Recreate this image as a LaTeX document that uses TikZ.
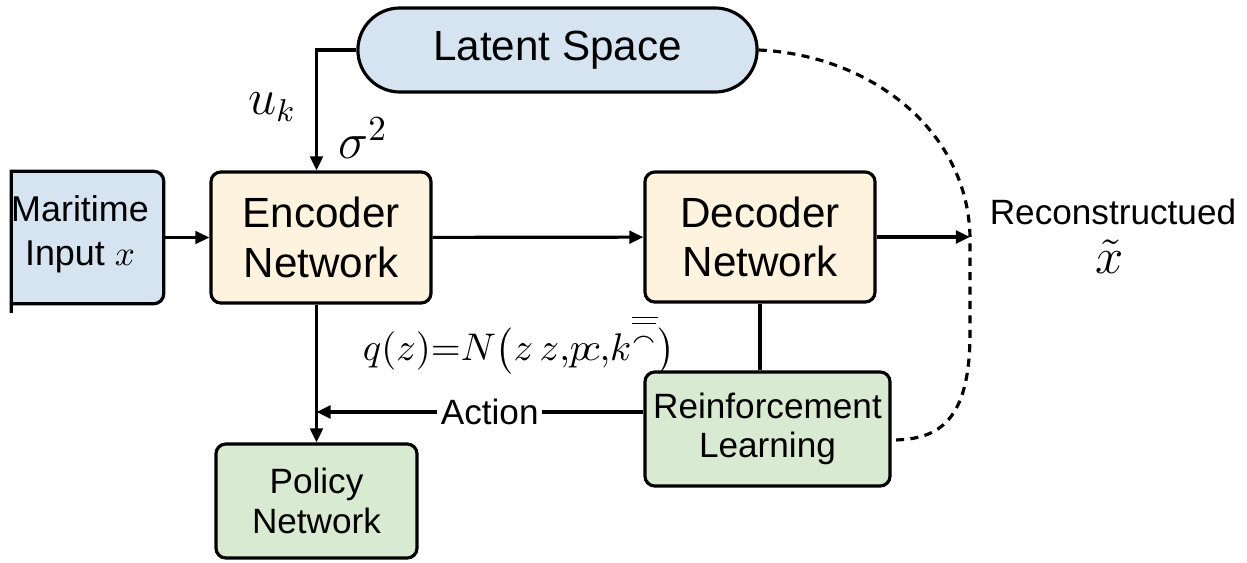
\documentclass[tikz,border=0pt]{standalone}
\usepackage{fontspec}
\setmainfont{Liberation Sans}
\usepackage{amsmath,amssymb}
\definecolor{latblue}{RGB}{214,228,241}
\definecolor{netcream}{RGB}{253,243,222}
\definecolor{rlgreen}{RGB}{217,234,211}
\usetikzlibrary{positioning,arrows.meta,calc}
\tikzset{
  netbox/.style={draw, line width=0.9pt, rounded corners=0.1cm, align=center, inner sep=0pt},
  flow/.style={line width=0.9pt, -{Triangle[length=4pt,width=3.6pt]}},
  plain/.style={line width=0.9pt}
}

\begin{document}
\begin{tikzpicture}[x=0.01cm,y=-0.01cm]
  \useasboundingbox (0,0) rectangle (1247,563);

  % boxes
  \node [fill=latblue, inner sep=0pt, minimum width=1.51cm, minimum height=1.31cm] (mi) at (87.5,237.5) {};
  \draw [plain] ([yshift=-0.09cm]mi.south west) -- (mi.north west)
     [rounded corners=0.1cm] -- (mi.north east) -- (mi.south east) -- (mi.south west);
  \node [align=center, font=\fontsize{10.2}{12.6}\selectfont] (mitxt) at (80,234) {Maritime\\Input $x$};

  \node [netbox, fill=netcream, minimum width=2.2cm, minimum height=1.31cm,
         font=\fontsize{12}{14}\selectfont] (enc) at (321,237.5) {Encoder\\Network};
  \node [netbox, fill=netcream, minimum width=2.3cm, minimum height=1.3cm,
         font=\fontsize{12}{14}\selectfont] (dec) at (760,237) {Decoder\\Network};
  \node [netbox, fill=latblue, rounded corners=0.42cm, minimum width=3.99cm, minimum height=0.84cm,
         font=\fontsize{12}{14}\selectfont] (lat) at (557.5,50) {\raisebox{-1pt}{Latent Space}};
  \node [netbox, fill=rlgreen, minimum width=2.45cm, minimum height=1.14cm,
         font=\fontsize{10}{11}\selectfont] (rl) at (767.5,429) {Reinforcement\\Learning};
  \node [netbox, fill=rlgreen, minimum width=2.01cm, minimum height=1.14cm,
         font=\fontsize{10}{11.5}\selectfont] (pol) at (316.5,501) {Policy\\Network};

  \node [align=center, font=\fontsize{10}{12}\selectfont] (rectxt) at (1113,212) {Reconstructued};
  \node [font=\fontsize{14}{16}\selectfont] (rectil) at (1110,257) {$\tilde{x}$};
  \coordinate (rec) at (970,237);

  % connectors
  \draw [flow] (mi) -- (enc);
  \draw [flow] (enc) -- (dec);
  \draw [flow] (dec) -- (rec);
  \draw [flow] (lat.west) -| (enc.north -| pol.north);
  \draw [flow] (pol.north |- enc.south) -- (pol.north);
  \draw [plain] (dec.south) -- (dec.south |- rl.north);
  \draw [flow] ([yshift=0.17cm]rl.west) -- ([yshift=0.17cm]rl.west -| pol.north)
     node [pos=0.47, fill=white, inner sep=1pt, font=\fontsize{10}{12}\selectfont] (act) {Action};

  \draw [plain, dash pattern=on 2.3pt off 1.8pt] (lat.east) .. controls (870,55) and (968,130) .. (rec)
     -- (970,333) .. controls (970,420) and (940,440) .. ([yshift=-0.11cm]rl.east);

  % labels
  \node [font=\fontsize{13.5}{15}\selectfont] (uk) at (272,107) {$u_k$};
  \node [font=\fontsize{14}{16}\selectfont] (sig) at (363,138) {$\sigma^2$};
  \node [font=\fontsize{11}{13}\selectfont] (qz) at (519,345)
     {$q(z){=}N\bigl(z\,z{,}p\!c{,}k^{\overline{\overline{\smallfrown}}}\bigr)$};
\end{tikzpicture}
\end{document}
